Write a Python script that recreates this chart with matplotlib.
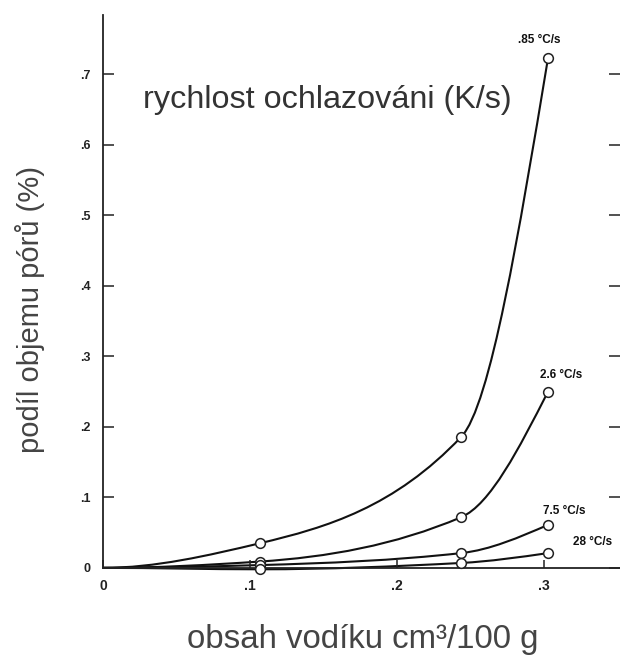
import numpy as np
import matplotlib
matplotlib.use("Agg")
import matplotlib.pyplot as plt
from matplotlib.path import Path
from matplotlib.patches import PathPatch

# ---- data ----
hydrogen = [0.0, 0.107, 0.244, 0.303]          # obsah vodíku cm³/100 g
pores_085 = [0.0, 0.035, 0.186, 0.723]         # .85 °C/s
pores_26 = [0.0, 0.009, 0.072, 0.250]          # 2.6 °C/s
pores_75 = [0.0, 0.004, 0.021, 0.061]          # 7.5 °C/s
pores_28 = [0.0, -0.002, 0.007, 0.021]         # 28 °C/s
series_labels = [".85 °C/s", "2.6 °C/s", "7.5 °C/s", "28 °C/s"]
label_pos = [(0.297, 0.749), (0.312, 0.274), (0.314, 0.080), (0.333, 0.037)]
yticks = [0, 0.1, 0.2, 0.3, 0.4, 0.5, 0.6, 0.7]
ytick_labels = ["0", ".1", ".2", ".3", ".4", ".5", ".6", ".7"]
xticks = [0, 0.1, 0.2, 0.3]
xtick_labels = ["0", ".1", ".2", ".3"]

FONT = ["Liberation Sans", "DejaVu Sans"]
plt.rcParams["font.family"] = FONT

fig = plt.figure(figsize=(6.2, 6.55), dpi=100)
ax = fig.add_axes([0.166, 0.133, 0.834, 0.844])
ax.set_xlim(0, 0.352)
ax.set_ylim(0, 0.784)


def smooth_path(xs, ys):
    xs = np.asarray(xs, float)
    ys = np.asarray(ys, float)
    h = np.diff(xs)
    d = np.diff(ys) / h
    m = np.zeros_like(xs)
    for i in range(1, len(xs) - 1):
        if d[i - 1] * d[i] <= 0:
            m[i] = 0.0
        else:
            w1 = 2 * h[i] + h[i - 1]
            w2 = h[i] + 2 * h[i - 1]
            m[i] = (w1 + w2) / (w1 / d[i - 1] + w2 / d[i])
    m[-1] = max(d[-1], (3 * d[-1] - m[-2]) / 2)
    verts = [(xs[0], ys[0])]
    codes = [Path.MOVETO]
    for i in range(len(xs) - 1):
        verts += [(xs[i] + h[i] / 3, ys[i] + m[i] * h[i] / 3),
                  (xs[i + 1] - h[i] / 3, ys[i + 1] - m[i + 1] * h[i] / 3),
                  (xs[i + 1], ys[i + 1])]
        codes += [Path.CURVE4] * 3
    return Path(verts, codes)


for ys in [pores_085, pores_26, pores_75, pores_28]:
    patch = PathPatch(smooth_path(hydrogen, ys), facecolor="none",
                      edgecolor="#111111", lw=1.5, transform=ax.transData,
                      clip_on=False)
    ax.add_patch(patch)
    ax.plot(hydrogen[1:], ys[1:], "o", ms=7, mfc="white", mec="#222222",
            mew=1.1, clip_on=False, zorder=3)

for lab, (lx, ly) in zip(series_labels, label_pos):
    ax.text(lx, ly, lab, fontsize=8.5, fontweight="bold", ha="center",
            va="center", color="#111111")

ax.text(0.027, 0.664, "rychlost ochlazováni (K/s)", fontsize=23.3,
        color="#333333", ha="left", va="center")

for s in ["top", "right"]:
    ax.spines[s].set_visible(False)
for s in ["left", "bottom"]:
    ax.spines[s].set_linewidth(1.3)
    ax.spines[s].set_color("#222222")

ax.set_yticks(yticks)
ax.set_yticklabels(ytick_labels, fontsize=9, fontweight="bold")
ax.set_xticks(xticks)
ax.set_xticklabels(xtick_labels, fontsize=10, fontweight="bold")
ax.tick_params(axis="y", direction="in", length=8, width=1.1, right=True,
               pad=9, colors="#222222")
ax.tick_params(axis="x", direction="in", length=6, width=1.1, pad=8,
               colors="#222222")

ax.set_ylabel("podíl objemu pórů (%)", fontsize=21, color="#444444",
              va="center")
ax.yaxis.set_label_coords((30 - 103) / 517, (568 - 310) / 553)
ax.set_xlabel("obsah vodíku cm³/100 g", fontsize=23.8, color="#444444",
              va="center")
ax.xaxis.set_label_coords((363 - 103) / 517, (568 - 640) / 553)

fig.savefig("out.png", dpi=100)
